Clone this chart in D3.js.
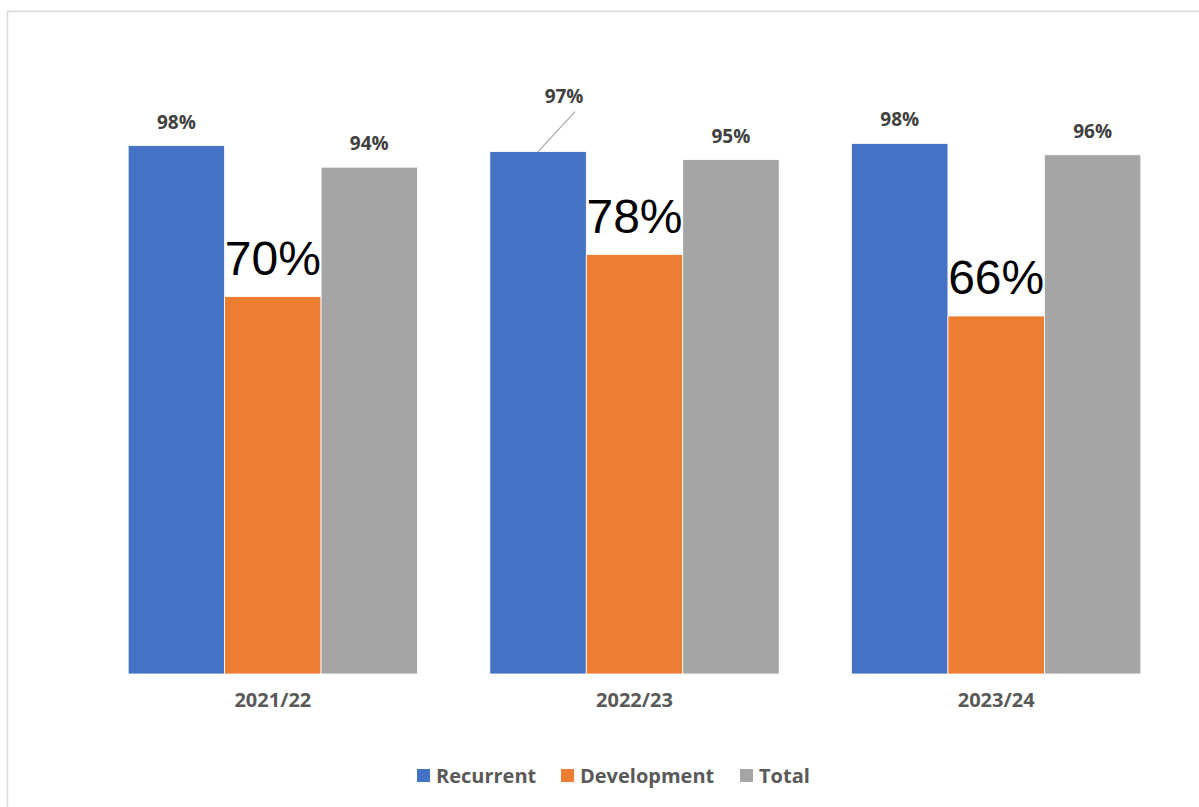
<!DOCTYPE html>
<html>
<head>
<meta charset="utf-8">
<script src="https://cdn.jsdelivr.net/npm/d3@7"></script>
<style>
  body { margin: 0; background: #fff; }
  svg { display: block; }
</style>
</head>
<body>
<svg id="chart" width="1199" height="807"></svg>
<script>
// data
var years = ["2021/22", "2022/23", "2023/24"];
var seriesNames = ["Recurrent", "Development", "Total"];
var recurrent = [0.980, 0.969, 0.984];
var development = [0.700, 0.778, 0.664];
var total = [0.940, 0.954, 0.963];
var colors = ["#4472c4", "#ed7d31", "#a5a5a5"];

var svg = d3.select("#chart");
var font = "'Open Sans', 'Noto Sans', sans-serif";

// chart border (runs off the right/bottom edge)
svg.append("rect")
    .attr("x", 7.5).attr("y", 11.5)
    .attr("width", 1400).attr("height", 1000)
    .attr("fill", "none")
    .attr("stroke", "#d9d9d9")
    .attr("stroke-width", 1.5);

var x0 = d3.scaleBand().domain(years).range([92, 1177])
    .paddingInner(0.2).paddingOuter(0.1);
var x1 = d3.scaleBand().domain(seriesNames).range([0, x0.bandwidth()]);
var y = d3.scaleLinear().domain([0, 1.2]).range([674, 27]);

var allSeries = [recurrent, development, total];
var rows = [];
years.forEach(function(yr, i) {
    seriesNames.forEach(function(s, j) {
        rows.push({year: yr, series: s, idx: j, value: allSeries[j][i], gi: i});
    });
});

var g = svg.append("g");

g.selectAll("rect.bar").data(rows).enter().append("rect")
    .attr("class", "bar")
    .attr("x", function(d) { return x0(d.year) + x1(d.series); })
    .attr("width", x1.bandwidth())
    .attr("y", function(d) { return y(d.value); })
    .attr("height", function(d) { return y(0) - y(d.value); })
    .attr("fill", function(d) { return colors[d.idx]; })
    .attr("stroke", "#fff")
    .attr("stroke-width", 0.8);

var pct = d3.format(".0%");

// labels: big plain ones for Development, small bold ones otherwise
rows.forEach(function(d) {
    var cx = x0(d.year) + x1(d.series) + x1.bandwidth() / 2;
    if (d.idx === 1) {
        g.append("text")
            .attr("x", cx)
            .attr("y", y(d.value) - 22)
            .attr("text-anchor", "middle")
            .attr("font-family", "'Liberation Sans', Arial, sans-serif")
            .attr("font-size", 48)
            .attr("fill", "#000")
            .text(pct(d.value));
        return;
    }
    var lx = cx, ly = y(d.value) - 17;
    if (d.gi === 1 && d.idx === 0) {
        // label moved up with a leader line
        lx = cx + 26; ly = y(d.value) - 49;
        g.append("line")
            .attr("x1", cx).attr("y1", y(d.value))
            .attr("x2", cx + 37).attr("y2", y(d.value) - 40)
            .attr("stroke", "#a6a6a6").attr("stroke-width", 1.2);
    }
    g.append("text")
        .attr("x", lx)
        .attr("y", ly)
        .attr("text-anchor", "middle")
        .attr("font-family", font)
        .attr("font-weight", "bold")
        .attr("font-size", 19)
        .attr("fill", "#404040")
        .text(pct(d.value));
});

// category axis labels
var xAxis = d3.axisBottom(x0).tickSize(0).tickPadding(19);
var ax = svg.append("g").attr("transform", "translate(0," + y(0) + ")").call(xAxis);
ax.select(".domain").remove();
ax.selectAll("text")
    .attr("font-family", font)
    .attr("font-weight", "bold")
    .attr("font-size", 20)
    .attr("fill", "#595959");

// legend
var legendX = [417, 561, 740];
var leg = svg.append("g").selectAll("g").data(seriesNames).enter().append("g")
    .attr("transform", function(d, i) { return "translate(" + legendX[i] + ",769)"; });
leg.append("rect").attr("width", 13).attr("height", 13)
    .attr("fill", function(d, i) { return colors[i]; });
leg.append("text")
    .attr("x", 19).attr("y", 13.5)
    .attr("font-family", font)
    .attr("font-weight", "bold")
    .attr("font-size", 20)
    .attr("fill", "#595959")
    .text(function(d) { return d; });
</script>
</body>
</html>
